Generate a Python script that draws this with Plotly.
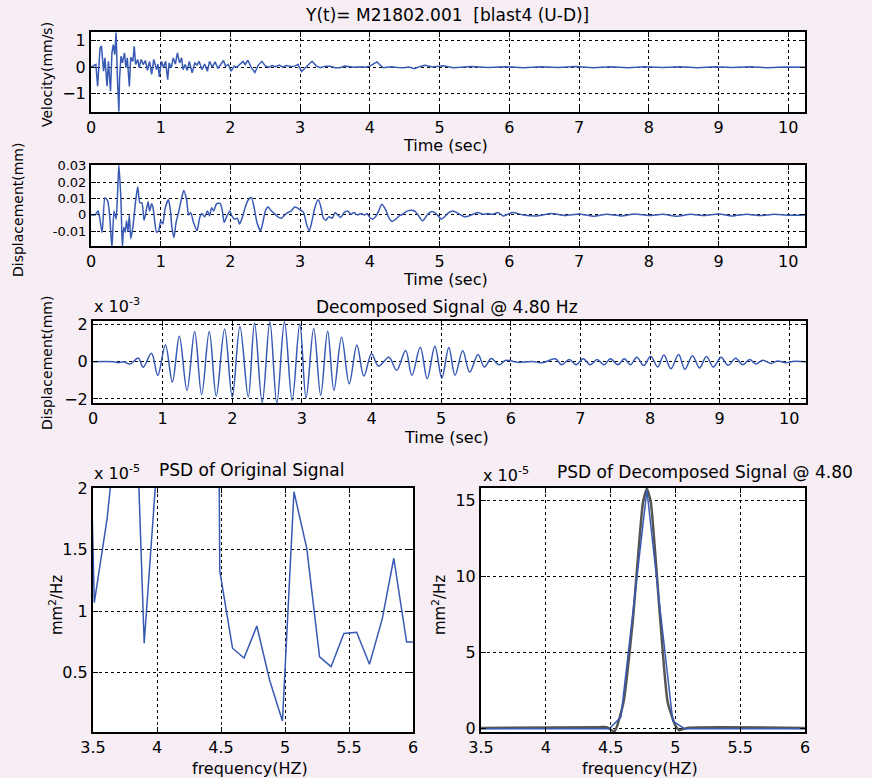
import plotly.graph_objects as go

W, H = 872, 778

# ---------------- velocity record (mm/s) ----------------
vel_t = [0.0, 0.03, 0.07, 0.095, 0.13, 0.15, 0.18, 0.2, 0.23, 0.25, 0.28, 0.3, 0.32, 0.34,
         0.36, 0.38, 0.4, 0.41, 0.43, 0.45, 0.48, 0.5, 0.52, 0.55, 0.57, 0.6, 0.62, 0.64,
         0.67, 0.69, 0.72, 0.75, 0.78, 0.81, 0.84, 0.87, 0.9, 0.94, 0.96, 0.98, 1.01, 1.04,
         1.07, 1.1, 1.12, 1.15, 1.18, 1.21, 1.24, 1.27, 1.3, 1.32, 1.35, 1.38, 1.41, 1.45,
         1.49, 1.52, 1.55, 1.59, 1.63, 1.67, 1.7, 1.74, 1.78, 1.82, 1.86, 1.9, 1.93, 1.97,
         2.01, 2.05, 2.09, 2.13, 2.18, 2.21, 2.25, 2.3, 2.35, 2.4, 2.45, 2.5, 2.55, 2.6,
         2.65, 2.7, 2.75, 2.8, 2.86, 2.92, 2.97, 3.02, 3.08, 3.17, 3.23, 3.29, 3.36, 3.43,
         3.5, 3.57, 3.64, 3.71, 3.78, 3.86, 3.93, 4.0, 4.1, 4.19, 4.3, 4.4, 4.48, 4.56,
         4.64, 4.72, 4.79, 4.9, 5.05, 5.2, 5.45, 5.7, 5.95, 6.2, 6.45, 6.7, 6.95, 7.2,
         7.45, 7.7, 7.95, 8.2, 8.45, 8.7, 8.95, 9.2, 9.45, 9.7, 9.95, 10.24]
vel_v = [0.0, 0.04, 0.1, -0.71, 0.72, 0.8, -0.15, 0.35, -0.71, 0.22, -0.9, 0.54, 0.85, 0.47,
         1.3, -0.52, -1.66, -0.4, 0.41, 0.16, 0.54, -0.02, 0.35, -0.72, 0.37, 0.22, 0.78, 0.1,
         0.29, -0.02, 0.29, 0.1, 0.25, -0.12, 0.22, -0.27, 0.29, -0.09, 0.12, -0.36, 0.22, 0.0,
         0.22, -0.47, 0.16, -0.02, 0.35, 0.12, 0.54, 0.16, 0.35, -0.09, 0.1, -0.12, 0.22, -0.21,
         0.16, 0.08, 0.22, -0.09, 0.12, -0.15, 0.22, 0.0, 0.2, -0.05, 0.08, 0.25, 0.04, 0.1,
         -0.15, 0.04, 0.0, 0.1, 0.22, 0.1, 0.26, -0.02, -0.2, 0.08, 0.22, 0.05, 0.0, 0.06,
         0.02, 0.08, 0.0, 0.06, 0.03, 0.04, 0.1, -0.16, 0.0, 0.22, 0.05, -0.02, 0.04, 0.04,
         -0.02, -0.02, 0.04, 0.03, 0.0, 0.02, 0.0, 0.04, 0.2, -0.02, 0.02, -0.01, -0.02, 0.01,
         -0.06, 0.03, 0.07, 0.01, 0.05, -0.02, 0.03, -0.01, 0.02, -0.02, 0.02, -0.01, 0.03, -0.02,
         0.02, -0.02, 0.02, -0.01, 0.02, -0.02, 0.02, -0.01, 0.02, -0.02, 0.01, 0.0]

# ---------------- displacement record (mm) ----------------
dis_t = [0.0, 0.06, 0.1, 0.12, 0.16, 0.2, 0.24, 0.27, 0.3, 0.33, 0.36, 0.38, 0.4, 0.43,
         0.45, 0.47, 0.49, 0.51, 0.53, 0.55, 0.57, 0.6, 0.64, 0.67, 0.7, 0.73, 0.76, 0.78,
         0.8, 0.82, 0.84, 0.87, 0.89, 0.91, 0.94, 0.97, 1.0, 1.03, 1.06, 1.11, 1.14, 1.16,
         1.19, 1.22, 1.26, 1.29, 1.33, 1.37, 1.4, 1.43, 1.47, 1.52, 1.56, 1.59, 1.63, 1.67,
         1.7, 1.73, 1.76, 1.8, 1.85, 1.88, 1.91, 1.95, 1.99, 2.02, 2.06, 2.1, 2.13, 2.17,
         2.21, 2.25, 2.3, 2.34, 2.38, 2.43, 2.46, 2.5, 2.54, 2.58, 2.63, 2.68, 2.73, 2.78,
         2.82, 2.87, 2.92, 2.97, 3.01, 3.05, 3.09, 3.13, 3.17, 3.21, 3.26, 3.3, 3.33, 3.37,
         3.41, 3.46, 3.5, 3.54, 3.58, 3.63, 3.68, 3.73, 3.77, 3.82, 3.87, 3.92, 3.96, 4.0,
         4.04, 4.09, 4.13, 4.17, 4.23, 4.27, 4.32, 4.37, 4.42, 4.47, 4.52, 4.59, 4.64, 4.69,
         4.75, 4.78, 4.83, 4.88, 4.93, 4.98, 5.02, 5.07, 5.13, 5.19, 5.25, 5.3, 5.36, 5.42,
         5.48, 5.55, 5.62, 5.69, 5.76, 5.84, 5.91, 5.98, 6.05, 6.2, 6.4, 6.6, 6.8, 7.0,
         7.2, 7.4, 7.6, 7.8, 8.0, 8.2, 8.4, 8.6, 8.8, 9.0, 9.2, 9.4, 9.6, 9.8,
         10.0, 10.24]
dis_v = [0.0, 0.0, 0.0024, -0.0006, -0.0107, 0.0105, 0.0084, -0.0016, -0.02, 0.0024, -0.0026, 0.0124, 0.0305, 0.0084,
         -0.02, -0.0076, -0.0106, -0.0036, -0.01, 0.0, -0.0145, -0.0076, 0.0084, 0.0172, 0.0074, 0.0074, -0.0032, 0.0,
         0.0044, 0.008, 0.0024, 0.0068, 0.0044, -0.0026, -0.0106, -0.0096, -0.0036, -0.0056, 0.0034, 0.0094, 0.0024, -0.0076,
         -0.0138, -0.0046, 0.0024, 0.0084, 0.0149, 0.0094, 0.0, 0.0014, -0.0046, -0.0097, -0.0016, 0.0008, -0.0012, 0.0024,
         -0.0006, 0.0044, 0.0024, 0.0068, 0.007, 0.0034, -0.0046, -0.0006, 0.0024, -0.0006, -0.0026, -0.002, -0.0056, -0.0016,
         0.0044, 0.0088, 0.0107, 0.0044, -0.0046, -0.0097, -0.0056, 0.0024, 0.0048, 0.0028, 0.0008, -0.0012, -0.002, 0.0,
         0.0014, 0.0024, 0.0048, 0.004, 0.0028, 0.0014, -0.0056, -0.0097, -0.0036, 0.0044, 0.0092, 0.0044, -0.0016, -0.0032,
         -0.0012, -0.002, 0.0014, 0.0, -0.0016, 0.0014, 0.0024, 0.0004, 0.0014, 0.0, 0.0008, 0.0, 0.0008, -0.0016,
         -0.0026, -0.0006, 0.0028, 0.0065, 0.0028, -0.0016, -0.004, -0.0026, -0.0006, 0.0004, 0.002, 0.0028, 0.0024, 0.0,
         -0.0036, -0.0026, 0.0004, 0.002, 0.0014, -0.0006, -0.0026, -0.0012, 0.0014, 0.0024, 0.0014, 0.0, -0.0012, -0.0006,
         0.0004, 0.0014, 0.0004, 0.0008, 0.0004, 0.0014, -0.0006, 0.0004, 0.0014, 0.0, -0.0006, 0.0008, -0.0004, 0.0006,
         -0.0008, 0.0004, -0.0006, 0.0006, -0.0004, 0.0004, -0.0008, 0.0004, -0.0004, 0.0006, -0.0006, 0.0004, -0.0004, 0.0004,
         -0.0002, 0.0]

# ---------------- decomposed component @ 4.80 Hz (x 1e-3 mm) ----------------
dec_t = [0.0, 0.29, 0.36, 0.44, 0.53, 0.65, 0.72, 0.84, 0.93, 1.04, 1.14, 1.24, 1.35, 1.46,
         1.56, 1.67, 1.77, 1.89, 2.0, 2.11, 2.23, 2.32, 2.43, 2.54, 2.64, 2.75, 2.86, 2.97,
         3.06, 3.17, 3.27, 3.37, 3.46, 3.57, 3.68, 3.79, 3.89, 4.0, 4.1, 4.25, 4.36, 4.49,
         4.58, 4.7, 4.8, 4.91, 5.01, 5.11, 5.2, 5.31, 5.41, 5.53, 5.62, 5.72, 5.83, 5.93,
         6.1, 6.3, 6.45, 6.64, 6.73, 6.84, 6.94, 7.04, 7.14, 7.24, 7.34, 7.43, 7.54, 7.63,
         7.72, 7.81, 7.91, 8.01, 8.11, 8.2, 8.3, 8.41, 8.5, 8.61, 8.71, 8.81, 8.91, 9.02,
         9.12, 9.23, 9.33, 9.43, 9.52, 9.62, 9.74, 9.83, 9.95, 10.05, 10.24]
dec_v = [0.0, 0.0, -0.05, 0.0, -0.12, 0.2, -0.29, 0.46, -0.73, 0.91, -1.09, 1.38, -1.54, 1.63,
         -1.77, 1.63, -1.84, 1.77, -1.89, 1.91, -1.89, 2.09, -2.2, 2.16, -2.22, 2.16, -2.07, 2.04,
         -1.95, 1.8, -1.8, 1.66, -1.54, 1.32, -1.18, 0.91, -0.77, 0.43, -0.23, 0.25, -0.46, 0.61,
         -0.73, 0.79, -0.91, 0.84, -0.88, 0.77, -0.72, 0.6, -0.55, 0.39, -0.28, 0.18, -0.16, 0.08,
         -0.03, 0.02, -0.05, 0.16, -0.16, 0.12, -0.16, 0.16, -0.16, 0.12, -0.16, 0.16, -0.16, 0.16,
         -0.16, 0.25, -0.2, 0.3, -0.28, 0.37, -0.37, 0.39, -0.4, 0.33, -0.33, 0.28, -0.28, 0.25,
         -0.19, 0.19, -0.16, 0.12, -0.12, 0.09, -0.09, 0.05, -0.05, 0.02, 0.0]

# ---------------- PSD of the original signal (x 1e-5 mm^2/Hz) ----------------
psd_f = [3.41, 3.51, 3.61, 3.70, 3.80, 3.90, 4.00, 4.10, 4.20, 4.29, 4.39, 4.49, 4.59, 4.68,
         4.78, 4.88, 4.98, 5.07, 5.17, 5.27, 5.36, 5.46, 5.56, 5.66, 5.76, 5.85, 5.95, 6.05]
psd_v = [5.5, 1.07, 1.75, 2.65, 3.8, 0.74, 2.2, 6.0, 9.0, 8.0, 20.0, 1.33, 0.70, 0.62,
         0.88, 0.44, 0.11, 1.97, 1.51, 0.63, 0.55, 0.82, 0.83, 0.57, 0.94, 1.43, 0.75, 0.75]

# ---------------- PSD of the decomposed component (x 1e-5 mm^2/Hz) ----------------
dpsd_f = [3.5, 4.39, 4.49, 4.58, 4.68, 4.78, 4.88, 4.98, 5.07, 6.0]
dpsd_v = [0.0, 0.0, 0.0, 0.77, 8.2, 15.7, 8.0, 0.5, 0.0, 0.0]
spec_f = [3.5, 4.41, 4.47, 4.53, 4.6, 4.67, 4.75, 4.78, 4.81, 4.88, 4.94, 5.0, 5.03, 5.09, 6.0]
spec_v = [0.05, 0.1, 0.1, -0.18, 1.76, 7.0, 14.9, 15.8, 14.9, 7.5, 1.76, 0.2, -0.1, 0.05, 0.05]

BLUE = "rgb(55,90,180)"
FONT = "DejaVu Sans, Arial, sans-serif"
TXT = 17     # titles
TICK = 16    # tick labels and horizontal axis titles
ROT = 14     # rotated axis titles


def px(x):
    return x / W


def py(y):
    return 1 - y / H


def axis_style(**kw):
    base = dict(
        showline=True, mirror="allticks", linecolor="black", linewidth=2,
        ticks="inside", ticklen=5, tickwidth=1, tickcolor="black",
        showgrid=True, gridcolor="black", griddash="dot", gridwidth=1,
        zeroline=False, automargin=False,
        tickfont=dict(family=FONT, size=TICK, color="black"),
        fixedrange=True,
    )
    base.update(kw)
    return base


fig = go.Figure()

fig.add_trace(go.Scatter(x=vel_t, y=vel_v, mode="lines", line=dict(color=BLUE, width=1.5),
                         xaxis="x", yaxis="y"))
fig.add_trace(go.Scatter(x=dis_t, y=dis_v, mode="lines",
                         line=dict(color=BLUE, width=1.5, shape="spline", smoothing=0.6),
                         xaxis="x2", yaxis="y2"))
fig.add_trace(go.Scatter(x=dec_t, y=dec_v, mode="lines",
                         line=dict(color=BLUE, width=1.5, shape="spline", smoothing=1.0),
                         xaxis="x3", yaxis="y3"))
fig.add_trace(go.Scatter(x=psd_f, y=psd_v, mode="lines", line=dict(color=BLUE, width=1.5),
                         xaxis="x4", yaxis="y4"))
fig.add_trace(go.Scatter(x=spec_f, y=spec_v, mode="lines",
                         line=dict(color="rgb(85,85,85)", width=2.5, shape="spline", smoothing=0.5),
                         xaxis="x5", yaxis="y5"))
fig.add_trace(go.Scatter(x=dpsd_f, y=dpsd_v, mode="lines", line=dict(color=BLUE, width=1.5),
                         xaxis="x5", yaxis="y5"))

time_ticks = list(range(0, 11))
freq_ticks = [3.5, 4, 4.5, 5, 5.5, 6]

fig.update_layout(
    width=W, height=H, autosize=False,
    margin=dict(l=0, r=0, t=0, b=0, autoexpand=False),
    paper_bgcolor="#f6edf5", plot_bgcolor="white",
    showlegend=False,
    font=dict(family=FONT, size=TXT, color="black"),
    xaxis=axis_style(domain=[px(91), px(805)], range=[0, 10.24], tickvals=time_ticks, anchor="y"),
    yaxis=axis_style(domain=[py(112), py(32)], range=[-1.68, 1.32], tickvals=[-1, 0, 1], anchor="x"),
    xaxis2=axis_style(domain=[px(91), px(805)], range=[0, 10.24], tickvals=time_ticks, anchor="y2"),
    yaxis2=axis_style(domain=[py(246), py(165)], range=[-0.019, 0.0305],
                      tickvals=[-0.01, 0, 0.01, 0.02, 0.03],
                      ticktext=["-0.01", "0", "0.01", "0.02", "0.03"],
                      tickfont=dict(family=FONT, size=13, color="black"), anchor="x2"),
    xaxis3=axis_style(domain=[px(93), px(806)], range=[0, 10.24], tickvals=time_ticks, anchor="y3"),
    yaxis3=axis_style(domain=[py(403), py(321)], range=[-2.22, 2.2], tickvals=[-2, 0, 2], anchor="x3"),
    xaxis4=axis_style(domain=[px(93), px(413)], range=[3.5, 6], tickvals=freq_ticks, anchor="y4"),
    yaxis4=axis_style(domain=[py(732), py(488)], range=[0.02, 2], tickvals=[0.5, 1, 1.5, 2], anchor="x4"),
    xaxis5=axis_style(domain=[px(481), px(805)], range=[3.5, 6], tickvals=freq_ticks, anchor="y5"),
    yaxis5=axis_style(domain=[py(732), py(488)], range=[-0.22, 15.84], tickvals=[0, 5, 10, 15], anchor="x5"),
)


def label(text, x, y, angle=0, xanchor="center", size=TXT):
    fig.add_annotation(text=text, x=px(x), y=py(y), xref="paper", yref="paper",
                       showarrow=False, textangle=angle, xanchor=xanchor, yanchor="middle",
                       font=dict(family=FONT, size=size, color="black"))


# titles
label("Y(t)= M21802.001  [blast4 (U-D)]", 447, 15)
label("Decomposed Signal @ 4.80 Hz", 447, 307)
label("PSD of Original Signal", 251, 470)
label("PSD of Decomposed Signal @ 4.80", 555, 472, xanchor="left")

# exponent markers
label("x 10<sup>-3</sup>", 92, 305, xanchor="left", size=TICK)
label("x 10<sup>-5</sup>", 92, 472, xanchor="left", size=TICK)
label("x 10<sup>-5</sup>", 481, 474, xanchor="left", size=TICK)

# axis titles
label("Velocity(mm/s)", 47, 75, angle=-90, size=ROT)
label("Displacement(mm)", 18, 210, angle=-90, size=ROT)
label("Displacement(mm)", 47, 363, angle=-90, size=ROT)
label("mm<sup>2</sup>/Hz", 56, 605, angle=-90, size=ROT + 1)
label("mm<sup>2</sup>/Hz", 439, 605, angle=-90, size=ROT + 1)
label("Time (sec)", 445, 145, size=TICK)
label("Time (sec)", 445, 279, size=TICK)
label("Time (sec)", 447, 437, size=TICK)
label("frequency(HZ)", 250, 768, size=TICK)
label("frequency(HZ)", 640, 768, size=TICK)

fig.write_html("out.html")
